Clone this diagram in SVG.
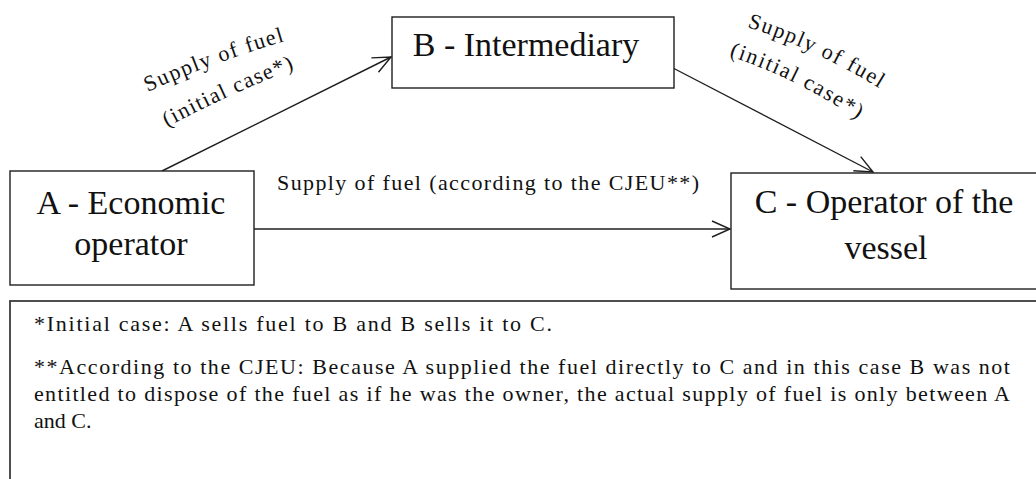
<svg xmlns="http://www.w3.org/2000/svg" width="1036" height="479" viewBox="0 0 1036 479">
  <style>
    .box { fill: #ffffff; stroke: #1e1e1e; stroke-width: 1.4; }
    .note { fill: #ffffff; stroke: #3c3c3c; stroke-width: 1.8; }
    .node-label { font-family: "Liberation Serif", "Times New Roman", serif; font-size: 34px; fill: #111111; text-anchor: middle; }
    .edge { stroke: #1e1e1e; stroke-width: 1.4; fill: none; }
    .edge-label { font-family: "Liberation Serif", "Times New Roman", serif; font-size: 22px; fill: #111111; }
    .note-text { font-family: "Liberation Serif", "Times New Roman", serif; font-size: 22px; fill: #111111; }
  </style>
  <defs>
    <marker id="open-arrow" markerUnits="userSpaceOnUse" markerWidth="24" markerHeight="20" refX="20" refY="10" orient="auto" viewBox="0 0 24 20">
      <path d="M2,2 L20,10 L2,18" fill="none" stroke="#1e1e1e" stroke-width="1.4"/>
    </marker>
    <!-- baselines for the slanted labels -->
    <path id="lbl-ab-1" d="M148,92 Q210,63 292,39"/>
    <path id="lbl-ab-2" d="M167,127 Q233,92 299,67"/>
    <path id="lbl-bc-1" d="M747,27 Q822,51 890,95"/>
    <path id="lbl-bc-2" d="M729,56 Q795,77 865,124"/>
  </defs>

  <rect width="1036" height="479" fill="#ffffff"/>

  <!-- connectors -->
  <g id="connectors">
    <line class="edge" x1="162" y1="171" x2="391" y2="57" marker-end="url(#open-arrow)"/>
    <line class="edge" x1="673" y1="68" x2="873" y2="172" marker-end="url(#open-arrow)"/>
    <line class="edge" x1="254" y1="229" x2="730" y2="229" marker-end="url(#open-arrow)"/>

    <text class="edge-label"><textPath href="#lbl-ab-1" textLength="146">Supply of fuel</textPath></text>
    <text class="edge-label"><textPath href="#lbl-ab-2" textLength="140">(initial case*)</textPath></text>
    <text class="edge-label"><textPath href="#lbl-bc-1" textLength="146">Supply of fuel</textPath></text>
    <text class="edge-label"><textPath href="#lbl-bc-2" textLength="144">(initial case*)</textPath></text>
    <text class="edge-label" x="277" y="190" textLength="422">Supply of fuel (according to the CJEU**)</text>
  </g>

  <!-- nodes -->
  <g id="node-a">
    <rect class="box" x="10" y="171" width="244" height="114"/>
    <text class="node-label" x="131" y="214">A - Economic</text>
    <text class="node-label" x="131" y="255">operator</text>
  </g>
  <g id="node-b">
    <rect class="box" x="392" y="17" width="282" height="71"/>
    <text class="node-label" x="526" y="56">B - Intermediary</text>
  </g>
  <g id="node-c">
    <rect class="box" x="731" y="173" width="320" height="116"/>
    <text class="node-label" x="884" y="213">C - Operator of the</text>
    <text class="node-label" x="886" y="259">vessel</text>
  </g>

  <!-- footnotes -->
  <g id="notes">
    <rect class="note" x="10" y="301" width="1040" height="190"/>
    <text class="note-text" x="34" y="331" textLength="518">*Initial case: A sells fuel to B and B sells it to C.</text>
    <text class="note-text" x="34" y="374" textLength="976">**According to the CJEU: Because A supplied the fuel directly to C and in this case B was not</text>
    <text class="note-text" x="34" y="401" textLength="976">entitled to dispose of the fuel as if he was the owner, the actual supply of fuel is only between A</text>
    <text class="note-text" x="34" y="428">and C.</text>
  </g>
</svg>
